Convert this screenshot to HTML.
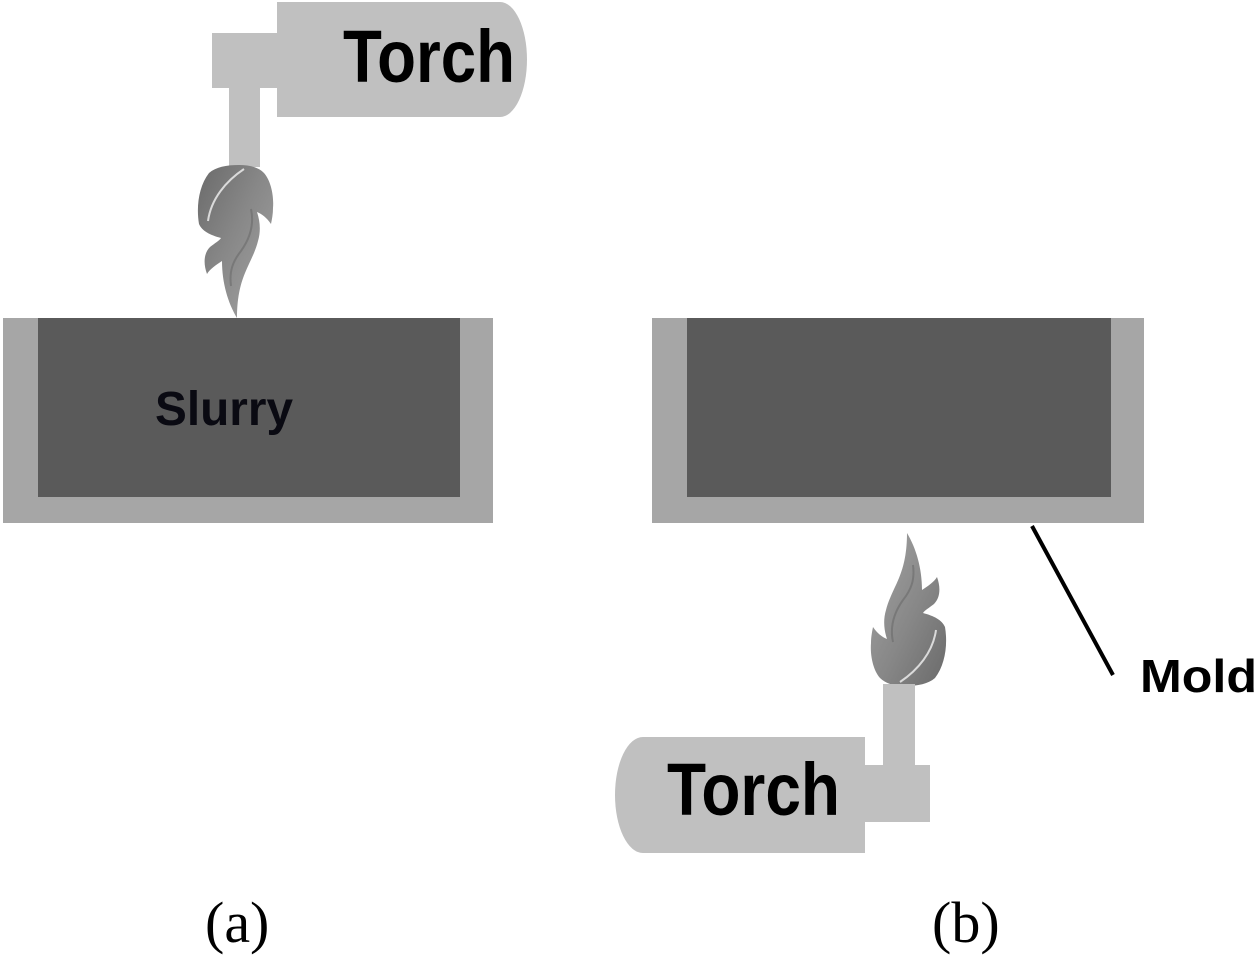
<!DOCTYPE html>
<html>
<head>
<meta charset="utf-8">
<style>
html,body{margin:0;padding:0;background:#fff;}
svg{display:block;}
</style>
</head>
<body>
<svg width="1260" height="955" viewBox="0 0 1260 955" xmlns="http://www.w3.org/2000/svg">
  <defs>
    <linearGradient id="fg" x1="0" y1="0" x2="1" y2="1">
      <stop offset="0" stop-color="#a4a4a4"/>
      <stop offset="0.55" stop-color="#878787"/>
      <stop offset="1" stop-color="#6a6a6a"/>
    </linearGradient>
    <g id="flame">
      <path d="M907 533 C916 548 922 568 922 590 C928 586 934 582 937 577 C941 588 940 598 934 604 C929 608 925 610 923 613 C934 616 942 620 945 627 C948 645 945 665 935 678 C928 684 918 686 905 686 C895 686 886 684 880 678 C873 670 870 655 871 643 C871 637 872 632 873 627 C877 633 882 637 887 639 C884 630 883 620 886 610 C889 598 895 588 899 578 C904 566 907 552 907 533 Z" fill="url(#fg)"/>
      <path d="M936 630 C933 652 918 670 900 682" stroke="#dadada" stroke-width="2" fill="none"/>
      <path d="M893 642 C890 628 893 614 903 600 C911 590 915 580 913 565" stroke="#6a6a6a" stroke-width="2" fill="none" opacity="0.6"/>
    </g>
  </defs>

  <!-- (a) top torch -->
  <rect x="212" y="33" width="66" height="55" fill="#c0c0c0"/>
  <rect x="229" y="86" width="31" height="81" fill="#c0c0c0"/>
  <path d="M277 2 H500 A27 57.5 0 0 1 500 117 H277 Z" fill="#c0c0c0"/>
  <text x="343" y="82" font-family="Liberation Sans, sans-serif" font-weight="bold" font-size="74" fill="#000" textLength="172" lengthAdjust="spacingAndGlyphs">Torch</text>

  <!-- top flame (rotated) -->
  <use href="#flame" transform="translate(1144 851) rotate(180)"/>

  <!-- (a) mold -->
  <rect x="3" y="318" width="490" height="205" fill="#a6a6a6"/>
  <rect x="38" y="318" width="422" height="179" fill="#5a5a5a"/>
  <text x="155" y="425" font-family="Liberation Sans, sans-serif" font-weight="bold" font-size="48" fill="#0a0a12" textLength="138" lengthAdjust="spacingAndGlyphs">Slurry</text>

  <!-- (b) mold -->
  <rect x="652" y="318" width="492" height="205" fill="#a6a6a6"/>
  <rect x="687" y="318" width="424" height="179" fill="#5a5a5a"/>

  <!-- mold leader line -->
  <line x1="1032" y1="526" x2="1113" y2="675" stroke="#000" stroke-width="4"/>
  <text x="1140" y="692" font-family="Liberation Sans, sans-serif" font-weight="bold" font-size="46" fill="#000" textLength="117" lengthAdjust="spacingAndGlyphs">Mold</text>

  <!-- bottom flame -->
  <use href="#flame"/>

  <!-- (b) bottom torch -->
  <rect x="883" y="684" width="32" height="82" fill="#c0c0c0"/>
  <rect x="864" y="765" width="66" height="57" fill="#c0c0c0"/>
  <path d="M865 737 H643 A28 58 0 0 0 643 853 H865 Z" fill="#c0c0c0"/>
  <text x="667" y="815" font-family="Liberation Sans, sans-serif" font-weight="bold" font-size="74" fill="#000" textLength="173" lengthAdjust="spacingAndGlyphs">Torch</text>

  <!-- captions -->
  <text x="205" y="942" font-family="Liberation Serif, serif" font-size="58" fill="#000">(a)</text>
  <text x="932" y="942" font-family="Liberation Serif, serif" font-size="58" fill="#000">(b)</text>
</svg>
</body>
</html>
